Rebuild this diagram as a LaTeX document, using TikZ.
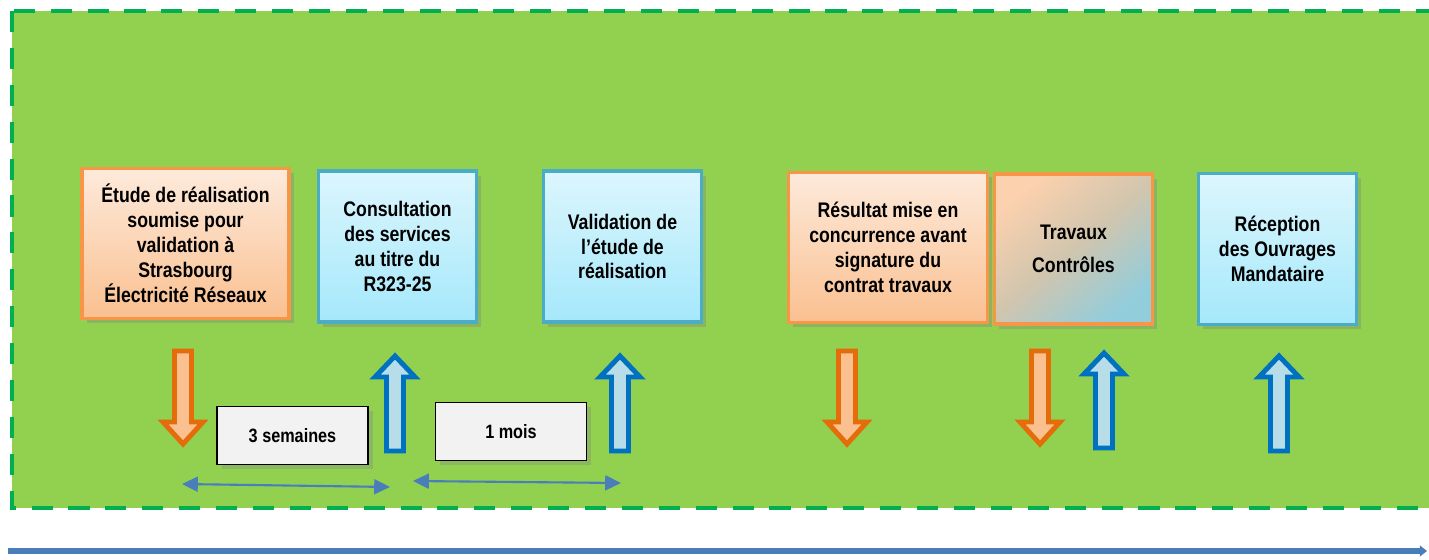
\documentclass[tikz,border=0pt]{standalone}
\usepackage{fontspec}
\setmainfont{Liberation Sans}[FakeStretch=0.84]
\usepackage{tikz}
\usetikzlibrary{arrows.meta, shadows}
\definecolor{mygreen}{RGB}{146, 208, 80}
\definecolor{mydash}{RGB}{0, 176, 80}
\definecolor{myorange}{RGB}{247, 150, 70}
\definecolor{peachtop}{RGB}{253, 234, 219}
\definecolor{peachbot}{RGB}{250, 192, 144}
\definecolor{myblue}{RGB}{75, 172, 198}
\definecolor{skytop}{RGB}{220, 246, 253}
\definecolor{skybot}{RGB}{165, 232, 251}
\definecolor{darkorange}{RGB}{228, 108, 10}
\definecolor{darkblue}{RGB}{0, 112, 192}
\definecolor{paleblue}{RGB}{183, 221, 232}
\definecolor{travblue}{RGB}{146, 205, 220}
\definecolor{mygray}{RGB}{242, 242, 242}
\definecolor{lineblue}{RGB}{74, 126, 187}

\begin{document}
\begin{tikzpicture}[x=0.02cm, y=-0.02cm, line join=miter,
	stepfont/.style={font=\bfseries\fontsize{12}{14.2}\selectfont},
	orangebox/.style={draw=myorange, line width=2.2pt, top color=peachtop, bottom color=peachbot,
		drop shadow={opacity=0.35}, align=center, stepfont, minimum height=3cm},
	bluebox/.style={draw=myblue, line width=2.2pt, top color=skytop, bottom color=skybot,
		drop shadow={opacity=0.35}, align=center, stepfont, minimum height=3.02cm, minimum width=3.16cm},
	graybox/.style={draw=black, line width=0.6pt, fill=mygray, drop shadow={opacity=0.3},
		minimum width=3.02cm, minimum height=1.17cm, font=\bfseries\fontsize{11}{13}\selectfont},
	spanarrow/.style={draw=lineblue, line width=1.2pt,
		{Triangle[length=9pt,width=8.5pt]}-{Triangle[length=9pt,width=8.5pt]}},
	timeline/.style={draw=lineblue, line width=3.2pt, -{Triangle[length=4pt,width=6pt]}}]
	
	% background area
	\clip (0,0) rectangle (1429,560);
	\fill[mygreen] (12,11) rectangle (1445,508);
	\draw[mydash, line width=2.3pt, dash pattern=on 12pt off 9pt] (12,11) rectangle (1445,508);
	
	% steps
	\node[orangebox, minimum width=4.14cm] (etude) at (185.5,243.5)
		{Étude de réalisation\\soumise pour\\validation à\\Strasbourg\\Électricité Réseaux};
	\node[bluebox] (consult) at (397.5,246.5) {Consultation\\des services\\au titre du\\R323-25};
	\node[bluebox] (valid) at (622.5,246.5) {Validation de\\l’étude de\\réalisation};
	\node[orangebox, minimum width=3.98cm] (resultat) at (888,247.5)
		{Résultat mise en\\concurrence avant\\signature du\\contrat travaux};
	\node[orangebox, minimum width=3.16cm, top color=peachtop!40!peachbot, bottom color=travblue,
		middle color=peachbot!60!travblue, shading angle=40] (travaux) at (1073.5,249)
		{Travaux\\[4.5pt]Contrôles};
	\node[bluebox] (reception) at (1277.5,249) {Réception\\des Ouvrages\\Mandataire};
	
	% durations
	\node[graybox] (dur1) at (292.5,435.5) {3 semaines};
	\node[graybox] (dur2) at (511,431.5) {1 mois};
	
	% down arrows
	\foreach \ax/\ay in {183/351, 847/351, 1040/351}{
		\draw[darkorange, fill=peachbot, line width=2.8pt]
			(\ax-8.5,\ay) -- (\ax+8.5,\ay) -- (\ax+8.5,\ay+71) -- (\ax+20,\ay+71)
			-- (\ax,\ay+93) -- (\ax-20,\ay+71) -- (\ax-8.5,\ay+71) -- cycle;
	}
	
	% up arrows
	\foreach \ax/\ay in {395/356, 620/356, 1104/353, 1279/356}{
		\draw[darkblue, fill=paleblue, line width=2.8pt]
			(\ax,\ay) -- (\ax+20,\ay+21) -- (\ax+8.5,\ay+21) -- (\ax+8.5,\ay+95)
			-- (\ax-8.5,\ay+95) -- (\ax-8.5,\ay+21) -- (\ax-20,\ay+21) -- cycle;
	}
	
	% spans
	\coordinate (s1) at (182,484);
	\coordinate (e1) at (390,487);
	\coordinate (s2) at (413,481);
	\coordinate (e2) at (621,483);
	\draw[spanarrow] (s1) -- (e1);
	\draw[spanarrow] (s2) -- (e2);
	
	% time axis
	\coordinate (t0) at (8,551);
	\coordinate (t1) at (1427,551);
	\draw[timeline] (t0) -- (t1);
	
\end{tikzpicture}
\end{document}
